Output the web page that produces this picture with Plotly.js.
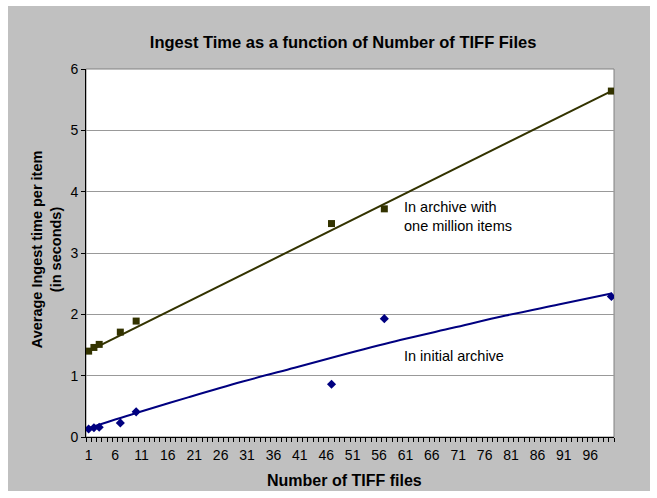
<!DOCTYPE html>
<html>
<head>
<meta charset="utf-8">
<script src="https://cdn.plot.ly/plotly-3.0.1.min.js"></script>
<style>
  html, body { margin: 0; padding: 0; background: #ffffff; width: 657px; height: 498px; overflow: hidden; }
  #chart { position: absolute; left: 8px; top: 6px; width: 642px; height: 485px; }
</style>
</head>
<body>
<div id="chart"></div>
<script>
// Data
const fileCounts = [1, 2, 3, 7, 10, 47, 57, 100];
const archiveMillion = [1.40, 1.46, 1.51, 1.71, 1.89, 3.48, 3.72, 5.64];
const initialArchive = [0.13, 0.15, 0.16, 0.23, 0.41, 0.86, 1.93, 2.29];

// Trend lines
const trendMillionX = [0.5, 100];
const trendMillionY = [1.38, 5.64];
const trendInitialX = [0.5, 10, 20, 30, 40, 50, 60, 70, 80, 90, 100];
const trendInitialY = [0.13, 0.39, 0.65, 0.90, 1.13, 1.36, 1.58, 1.78, 1.98, 2.16, 2.34];

const xTickVals = [1, 6, 11, 16, 21, 26, 31, 36, 41, 46, 51, 56, 61, 66, 71, 76, 81, 86, 91, 96];
const xTickText = xTickVals.map(String);
const yTickVals = [0, 1, 2, 3, 4, 5, 6];

const olive = '#333300';
const navy = '#000080';
const font = 'Liberation Sans, Arial, Helvetica, sans-serif';

const traces = [
  { x: trendMillionX, y: trendMillionY, mode: 'lines', line: { color: olive, width: 2 }, hoverinfo: 'skip', showlegend: false },
  { x: trendInitialX, y: trendInitialY, mode: 'lines', line: { color: navy, width: 2, shape: 'spline' }, hoverinfo: 'skip', showlegend: false },
  { x: fileCounts, y: archiveMillion, mode: 'markers', marker: { symbol: 'square', size: 7, color: olive }, showlegend: false },
  { x: fileCounts, y: initialArchive, mode: 'markers', marker: { symbol: 'diamond', size: 7, color: navy }, showlegend: false }
];

const layout = {
  width: 642, height: 485,
  margin: { l: 78, r: 36, t: 63, b: 54 },
  paper_bgcolor: '#c0c0c0',
  plot_bgcolor: '#ffffff',
  font: { family: font, size: 13, color: '#000000' },
  title: {
    text: '<b>Ingest Time as a function of Number of TIFF Files</b>',
    font: { family: font, size: 16.5, color: '#000000' },
    xref: 'container', x: 0.522, xanchor: 'center',
    yref: 'container', y: 0.926, yanchor: 'middle'
  },
  xaxis: {
    range: [0.5, 100.5],
    tickvals: xTickVals, ticktext: xTickText,
    ticks: '', showgrid: false, zeroline: false,
    showline: true, linecolor: '#000000', linewidth: 1,
    tickfont: { family: font, size: 14, color: '#000000' },
    ticklabelstandoff: 5,
    minor: { ticks: 'outside', ticklen: 4, tickwidth: 1, tickcolor: '#000000', tick0: 0.5, dtick: 1, showgrid: false },
    fixedrange: true
  },
  yaxis: {
    range: [0, 6],
    tickvals: yTickVals,
    ticks: 'outside', ticklen: 4, tickwidth: 1, tickcolor: '#000000',
    showgrid: true, gridcolor: '#999999', gridwidth: 1, zeroline: false,
    showline: true, linecolor: '#000000', linewidth: 1,
    tickfont: { family: font, size: 14, color: '#000000' },
    fixedrange: true
  },
  shapes: [
    { type: 'rect', xref: 'paper', yref: 'paper', x0: 0, x1: 1, y0: 0, y1: 1, line: { color: '#808080', width: 1 }, fillcolor: 'rgba(0,0,0,0)', layer: 'below' }
  ],
  annotations: [
    { text: '<b>Number of TIFF files</b>', xref: 'paper', yref: 'paper', x: 0.49, y: -0.117, xanchor: 'center', yanchor: 'middle', showarrow: false, font: { family: font, size: 16, color: '#000000' } },
    { text: '<b>Average Ingest time per item<br>(in seconds)</b>', xref: 'paper', yref: 'paper', x: -0.0758, y: 0.51, xanchor: 'center', yanchor: 'middle', textangle: -90, showarrow: false, font: { family: font, size: 14.5, color: '#000000' } },
    { text: 'In archive with<br>one million items', xref: 'paper', yref: 'paper', x: 0.598, y: 0.60, xanchor: 'left', yanchor: 'middle', align: 'left', showarrow: false, font: { family: font, size: 14.5, color: '#000000' } },
    { text: 'In initial archive', xref: 'paper', yref: 'paper', x: 0.598, y: 0.22, xanchor: 'left', yanchor: 'middle', align: 'left', showarrow: false, font: { family: font, size: 14.5, color: '#000000' } }
  ]
};

Plotly.newPlot('chart', traces, layout, { displayModeBar: false, staticPlot: true });
</script>
</body>
</html>
